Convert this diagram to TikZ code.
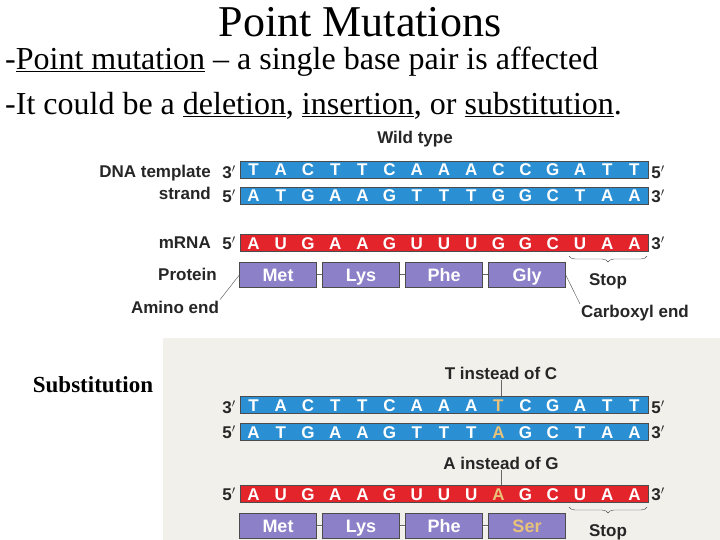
\documentclass[tikz,border=0pt]{standalone}
\usepackage{fontspec}
\setmainfont{Liberation Serif}
\newfontfamily\lab{Liberation Sans}
\usetikzlibrary{decorations.pathreplacing}
\definecolor{dnab}{HTML}{2B8FD3}
\definecolor{rnar}{HTML}{E3242B}
\definecolor{prot}{HTML}{8C80C8}
\definecolor{mut}{HTML}{E8C27A}
\definecolor{panel}{HTML}{F2F0EB}
\tikzset{
 strandbar/.style={draw=black!70,line width=0.4pt,minimum width=408pt,minimum height=17pt,inner sep=0},
 base/.style={text=white,font=\lab\fontsize{17}{17}\selectfont,text height=12pt,text depth=0pt,inner sep=0},
 lbl/.style={font=\lab\bfseries\fontsize{17}{17}\selectfont,text=black!85,inner sep=1pt},
 protbox/.style={draw=black!70,fill=prot,minimum width=77pt,minimum height=25pt,text=white,font=\lab\bfseries\fontsize{18}{18}\selectfont,inner sep=0,text height=13pt,text depth=0pt},
 pline/.style={draw=black!60,line width=0.5pt},
 stopbrace/.style={decorate,decoration={brace,mirror,amplitude=6pt},draw=black!70},
 body/.style={font=\fontsize{32}{32}\selectfont,anchor=west,inner sep=0}
}
\newcommand{\strandrow}[5]{% name, y, color, letters, mutidx
 \node[strandbar,fill=#3,anchor=west] (#1) at (240,#2) {};
 \foreach \c [count=\i from 0] in {#4} {
  \ifnum\i=#5 \node[base,text=mut] (#1-\i) at (253.6+27.2*\i,#2) {\bfseries\c};
  \else \node[base] (#1-\i) at (253.6+27.2*\i,#2) {\bfseries\c};\fi }
}
\begin{document}
\begin{tikzpicture}[x=1pt,y=-1pt]
\useasboundingbox (0,0) rectangle (720,540);
\fill[white] (0,0) rectangle (720,540);
\node[font=\fontsize{44}{44}\selectfont] (title) at (360,22) {Point Mutations};
\node[body] (l1) at (5,62) {-\underline{Point mutation} -- a single base pair is affected};
\node[body] (l2) at (5,106) {-It could be a \underline{deletion}, \underline{insertion}, or \underline{substitution}.};
\node[lbl] (wt) at (415,139) {Wild type};
\strandrow{t1}{170}{dnab}{T,A,C,T,T,C,A,A,A,C,C,G,A,T,T}{99}
\strandrow{t2}{196}{dnab}{A,T,G,A,A,G,T,T,T,G,G,C,T,A,A}{99}
\strandrow{t3}{243}{rnar}{A,U,G,A,A,G,U,U,U,G,G,C,U,A,A}{99}
\node[lbl,anchor=east] (dt) at (212,173) {DNA template};
\node[lbl,anchor=east] (ds) at (212,193) {strand};
\node[lbl,anchor=east] (mr) at (212,243) {mRNA};
\node[lbl,anchor=east] (pr) at (218,274) {Protein};
\node[lbl] (a1) at (229,172) {3$'$};
\node[lbl] (a2) at (229,196) {5$'$};
\node[lbl] (a3) at (229,243) {5$'$};
\node[lbl] (a4) at (658,172) {5$'$};
\node[lbl] (a5) at (658,196) {3$'$};
\node[lbl] (a6) at (658,243) {3$'$};
\node[protbox] (p1) at (278,275) {Met};
\node[protbox] (p2) at (361,275) {Lys};
\node[protbox] (p3) at (444,275) {Phe};
\node[protbox] (p4) at (527,275) {Gly};
\draw[pline,double] (p1)--(p2) (p2)--(p3) (p3)--(p4);
\draw[stopbrace] (569,256) -- (647,256);
\node[lbl] (st) at (608,281) {Stop};
\node[lbl] (am) at (175,307) {Amino end};
\node[lbl] (cb) at (635,313) {Carboxyl end};
\draw[pline] (p1.west) -- (am.north east);
\draw[pline] (p4.east) -- (cb.north west);
% panel
\fill[panel] (163,338) rectangle (720,540);
\node[font=\bfseries\fontsize{23}{23}\selectfont] (sub) at (93,385) {Substitution};
\node[lbl] (tc) at (501,373) {T instead of C};
\strandrow{b1}{405}{dnab}{T,A,C,T,T,C,A,A,A,T,C,G,A,T,T}{9}
\strandrow{b2}{432}{dnab}{A,T,G,A,A,G,T,T,T,A,G,C,T,A,A}{9}
\node[lbl] (ag) at (501,463) {A instead of G};
\strandrow{b3}{494}{rnar}{A,U,G,A,A,G,U,U,U,A,G,C,U,A,A}{9}
\draw[pline] (tc.south) -- (b1.north -| tc.south);
\draw[pline] (ag.south) -- (b3.north -| ag.south);
\node[lbl] (c1) at (229,407) {3$'$};
\node[lbl] (c2) at (229,432) {5$'$};
\node[lbl] (c3) at (229,494) {5$'$};
\node[lbl] (c4) at (658,407) {5$'$};
\node[lbl] (c5) at (658,432) {3$'$};
\node[lbl] (c6) at (658,494) {3$'$};
\node[protbox] (q1) at (278,526) {Met};
\node[protbox] (q2) at (361,526) {Lys};
\node[protbox] (q3) at (444,526) {Phe};
\node[protbox,text=mut] (q4) at (527,526) {Ser};
\draw[pline,double] (q1)--(q2) (q2)--(q3) (q3)--(q4);
\draw[stopbrace] (569,507) -- (647,507);
\node[lbl] (st2) at (608,532) {Stop};
\end{tikzpicture}
\end{document}
